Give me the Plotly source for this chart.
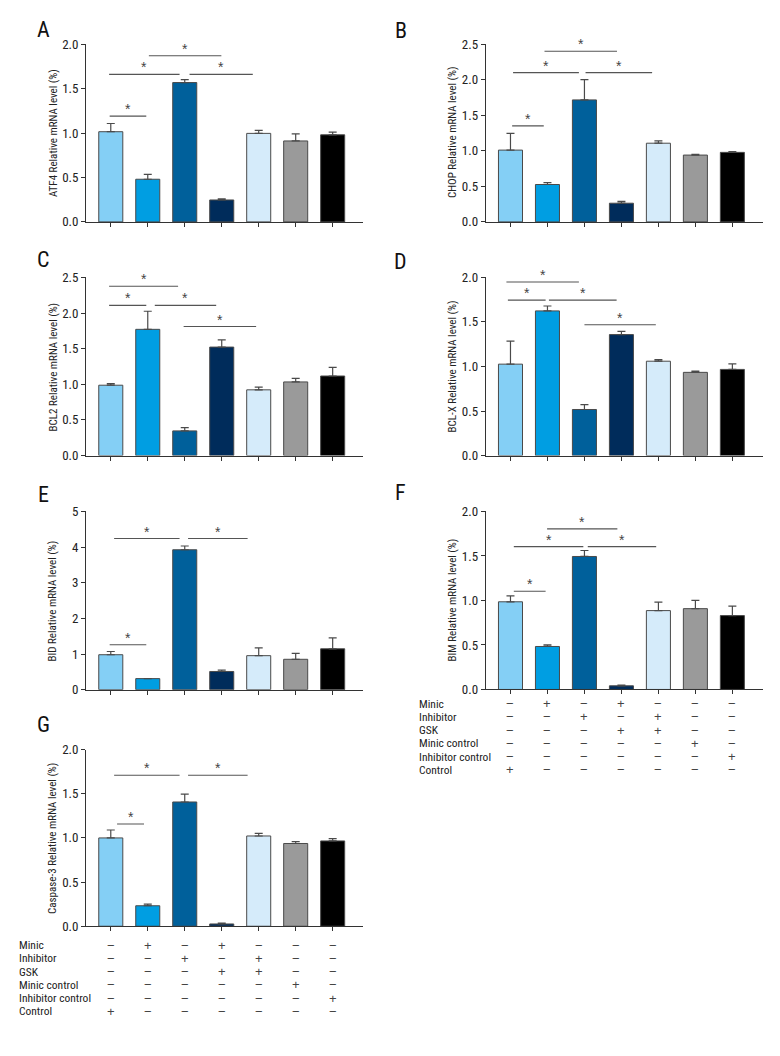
import plotly.graph_objects as go

W, H = 780, 1056
FONT = "Roboto Condensed, Liberation Sans Narrow, Roboto, sans-serif"
STAR_FONT = "Liberation Sans, Arial, sans-serif"

groups = ["Control", "Minic", "Inhibitor", "Minic+GSK", "Inhibitor+GSK", "Minic control", "Inhibitor control"]
bar_colors = ["#84CFF5", "#009EE2", "#00609B", "#002C5B", "#D5EBFA", "#9A9A9A", "#000000"]

# panel data: means and upper error (SD)
atf4_mean = [1.015, 0.48, 1.568, 0.247, 0.996, 0.911, 0.98]
atf4_err = [0.092, 0.055, 0.032, 0.011, 0.034, 0.079, 0.03]
chop_mean = [1.01, 0.526, 1.716, 0.263, 1.107, 0.94, 0.978]
chop_err = [0.235, 0.027, 0.284, 0.027, 0.033, 0.01, 0.012]
bcl2_mean = [0.987, 1.771, 0.346, 1.522, 0.922, 1.033, 1.116]
bcl2_err = [0.023, 0.254, 0.046, 0.102, 0.038, 0.051, 0.12]
bclx_mean = [1.026, 1.624, 0.517, 1.358, 1.059, 0.934, 0.967]
bclx_err = [0.258, 0.055, 0.055, 0.037, 0.018, 0.014, 0.063]
bid_mean = [0.98, 0.31, 3.925, 0.51, 0.954, 0.852, 1.146]
bid_err = [0.09, 0.0, 0.105, 0.04, 0.216, 0.168, 0.304]
bim_mean = [0.985, 0.483, 1.494, 0.041, 0.886, 0.908, 0.83]
bim_err = [0.067, 0.019, 0.067, 0.007, 0.096, 0.092, 0.107]
casp3_mean = [1.0, 0.232, 1.407, 0.026, 1.022, 0.937, 0.966]
casp3_err = [0.09, 0.018, 0.089, 0.011, 0.03, 0.022, 0.027]

# significance brackets: (x start, x end, y) in category/data units
atf4_sig = [(-0.03, 0.96, 1.19), (-0.045, 1.86, 1.66), (2.13, 3.84, 1.66), (1.03, 2.99, 1.87)]
chop_sig = [(0.045, 0.90, 1.35), (0.07, 1.85, 2.10), (2.03, 3.83, 2.10), (0.92, 2.88, 2.40)]
bcl2_sig = [(-0.045, 1.82, 2.375), (-0.045, 0.96, 2.108), (1.19, 2.85, 2.108), (1.97, 3.93, 1.81)]
bclx_sig = [(-0.11, 1.85, 1.948), (-0.07, 0.95, 1.745), (1.04, 2.87, 1.745), (2.0, 3.93, 1.469)]
bid_sig = [(-0.03, 0.96, 1.258), (0.09, 1.86, 4.24), (2.09, 3.7, 4.24)]
bim_sig = [(0.09, 0.95, 1.103), (0.09, 1.97, 1.605), (2.09, 3.94, 1.605), (0.99, 2.89, 1.804)]
casp3_sig = [(0.17, 0.9, 1.157), (0.09, 1.86, 1.709), (2.09, 3.7, 1.709)]

# treatment table
table_rows = ["Minic", "Inhibitor", "GSK", "Minic control", "Inhibitor control", "Control"]
table_marks = [
    ["−", "+", "−", "+", "−", "−", "−"],
    ["−", "−", "+", "−", "+", "−", "−"],
    ["−", "−", "−", "+", "+", "−", "−"],
    ["−", "−", "−", "−", "−", "+", "−"],
    ["−", "−", "−", "−", "−", "−", "+"],
    ["+", "−", "−", "−", "−", "−", "−"],
]

panels = [
    # letter, ytitle, mean, err, sig, ymax, dtick, x-domain px, y-domain px (bottom, top), letter pos, ytitle x
    ("A", "ATF4 Relative mRNA level (%)", atf4_mean, atf4_err, atf4_sig, 2.0, 0.5, (86, 363), (218, 37.7), (43, 23), 53),
    ("B", "CHOP Relative mRNA level (%)", chop_mean, chop_err, chop_sig, 2.5, 0.5, (485.7, 762.7), (218, 37.7), (401, 24), 452),
    ("C", "BCL2 Relative mRNA level (%)", bcl2_mean, bcl2_err, bcl2_sig, 2.5, 0.5, (86, 363), (455, 274.3), (43, 256), 53),
    ("D", "BCL-X Relative mRNA level (%)", bclx_mean, bclx_err, bclx_sig, 2.0, 0.5, (485.7, 762.7), (455, 274.3), (401, 258), 452),
    ("E", "BID Relative mRNA level (%)", bid_mean, bid_err, bid_sig, 5.0, 1.0, (86, 363), (692.5, 511.7), (43, 495), 53),
    ("F", "BIM Relative mRNA level (%)", bim_mean, bim_err, bim_sig, 2.0, 0.5, (485.7, 762.7), (692.3, 511.7), (401, 493), 452),
    ("G", "Caspase-3 Relative mRNA level (%)", casp3_mean, casp3_err, casp3_sig, 2.0, 0.5, (86, 363), (932.5, 753.3), (43, 728), 53),
]

fig = go.Figure()
layout = dict(width=W, height=H, margin=dict(l=0, r=0, t=0, b=0),
              paper_bgcolor="white", plot_bgcolor="white", showlegend=False,
              font=dict(family=FONT, color="#222"))
annotations = []
shapes = []
AX = "#333333"

for i, (letter, ytitle, mean, err, sig, ymax, dtick, xd, yd, lpos, ytx) in enumerate(panels, start=1):
    xa = "x" if i == 1 else f"x{i}"
    ya = "y" if i == 1 else f"y{i}"
    fig.add_trace(go.Bar(
        x=list(range(len(groups))), y=mean, width=0.65,
        marker=dict(color=bar_colors, line=dict(color="#4a4a4a", width=1)),
        error_y=dict(type="data", symmetric=False, array=err, arrayminus=[0] * len(err),
                     color="#4a4a4a", thickness=1.2, width=4),
        xaxis=xa, yaxis=ya, hoverinfo="skip",
    ))
    xkey = "xaxis" if i == 1 else f"xaxis{i}"
    ykey = "yaxis" if i == 1 else f"yaxis{i}"
    layout[xkey] = dict(domain=[xd[0] / W, xd[1] / W], anchor=ya, range=[-0.67, 6.82],
                        showgrid=False, zeroline=False, showline=True, linecolor=AX, linewidth=1,
                        ticks="outside", ticklen=4, tickcolor=AX, tickvals=list(range(7)),
                        showticklabels=False, fixedrange=True)
    layout[ykey] = dict(domain=[1 - yd[0] / H, 1 - yd[1] / H], anchor=xa, range=[0, ymax],
                        showgrid=False, zeroline=False, showline=True, linecolor=AX, linewidth=1,
                        ticks="outside", ticklen=4, tickcolor=AX, dtick=dtick,
                        tickformat=".1f" if dtick < 1 else "d",
                        tickfont=dict(family=FONT, size=13, color="#222"), fixedrange=True)
    # panel letter
    annotations.append(dict(text=letter, x=lpos[0] / W, y=1 - lpos[1] / H, xref="paper", yref="paper",
                            showarrow=False, font=dict(family=FONT, size=22, color="#111"),
                            xanchor="center", yanchor="middle"))
    # y title
    annotations.append(dict(text=ytitle, x=ytx / W, y=1 - (yd[0] + yd[1]) / 2 / H, xref="paper", yref="paper",
                            showarrow=False, textangle=-90, font=dict(family=FONT, size=11, color="#222"),
                            xanchor="center", yanchor="middle"))
    # significance brackets
    for (x0, x1, yv) in sig:
        shapes.append(dict(type="line", xref=xa, yref=ya, x0=x0, x1=x1, y0=yv, y1=yv,
                           line=dict(color="#555", width=1.1)))
        annotations.append(dict(text="*", x=(x0 + x1) / 2, y=yv, xref=xa, yref=ya, showarrow=False,
                                font=dict(family=STAR_FONT, size=14, color="#444"),
                                yanchor="bottom", yshift=-3))

# treatment tables under F and G
tables = [("x6", 416.7, 706.7), ("x7", 16.7, 951.7)]
row_step = 13.4
for xa, label_x, y0 in tables:
    for r, (lab, marks) in enumerate(zip(table_rows, table_marks)):
        yy = 1 - (y0 + r * row_step) / H
        annotations.append(dict(text=lab, x=label_x / W, y=yy, xref="paper", yref="paper", showarrow=False,
                                xanchor="left", yanchor="middle", font=dict(family=FONT, size=11.5, color="#222")))
        for c, m in enumerate(marks):
            annotations.append(dict(text=m, x=c, y=yy, xref=xa, yref="paper", showarrow=False,
                                    xanchor="center", yanchor="middle",
                                    font=dict(family=STAR_FONT, size=13, color="#444")))

layout["annotations"] = annotations
layout["shapes"] = shapes
fig.update_layout(**layout)
fig.write_html("out.html", config={"displayModeBar": False},
               post_script="document.body.style.margin='0';document.body.style.overflow='hidden';")
